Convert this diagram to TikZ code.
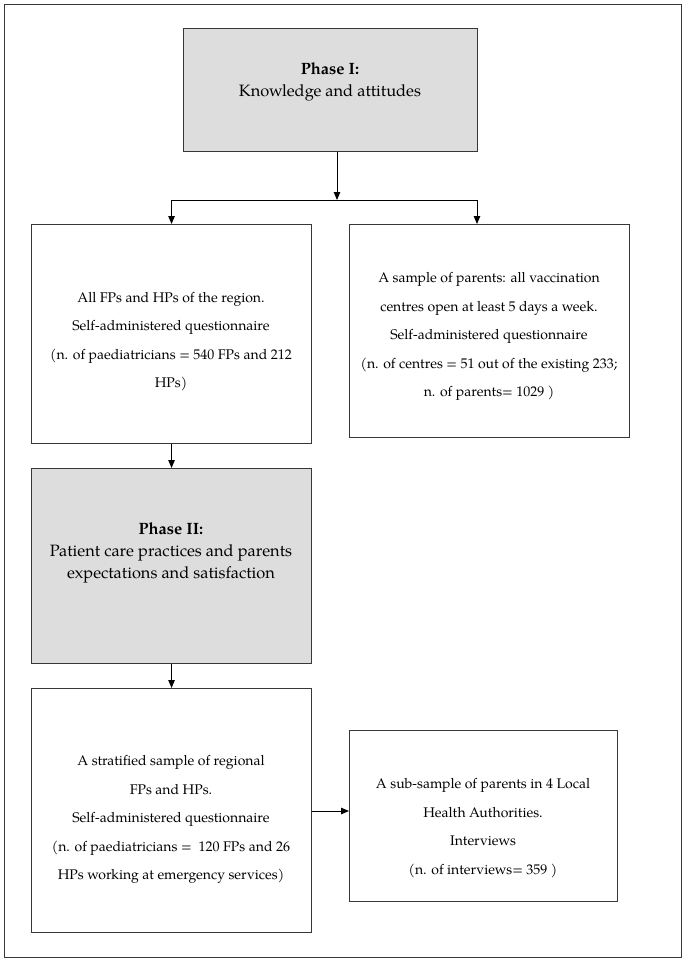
\documentclass[tikz,border=0pt]{standalone}
\usepackage{fontspec}
\setmainfont{TeX Gyre Pagella}
\usetikzlibrary{arrows.meta}
\definecolor{boxline}{RGB}{55,55,55}
\definecolor{phasefill}{RGB}{221,221,221}
\begin{document}
\begin{tikzpicture}[x=1pt,y=-1pt,
  box/.style={draw=boxline, line width=1.1pt, anchor=north west, inner sep=0pt},
  phasebox/.style={box, fill=phasefill},
  txt/.style={align=center, inner sep=0pt, font=\fontsize{14}{28.5}\selectfont},
  ptxt/.style={align=center, inner sep=0pt, font=\fontsize{16.4}{22}\selectfont},
  conn/.style={draw=black, line width=0.9pt},
  arr/.style={conn, -{Triangle[length=8pt,width=6.5pt]}}]
\useasboundingbox (0,0) rectangle (685,964);
\draw[draw=boxline, line width=1pt] (4,4) rectangle (681,957);

\node[phasebox, minimum width=294pt, minimum height=123pt] (P1) at (183,28) {};
\node[box, minimum width=280pt, minimum height=219pt] (A) at (31,224) {};
\node[box, minimum width=280pt, minimum height=213pt] (B) at (349,224) {};
\node[phasebox, minimum width=280pt, minimum height=195pt] (P2) at (31,468) {};
\node[box, minimum width=280pt, minimum height=244pt] (C) at (31,688) {};
\node[box, minimum width=268pt, minimum height=171pt] (D) at (349,730) {};

\node[ptxt] (tP1) at (330,82) {\textbf{Phase I:}\\Knowledge and attitudes};
\node[txt] (tA) at (171,341.5) {All FPs and HPs of the region.\\Self-administered questionnaire\\(n. of paediatricians = 540 FPs and 212\\HPs)};
\node[txt] (tB) at (489,336.5) {A sample of parents: all vaccination\\centres open at least 5 days a week.\\Self-administered questionnaire\\(n. of centres = 51 out of the existing 233;\\n. of parents= 1029 )};
\node[ptxt] (tP2) at (171,553) {\textbf{Phase II:}\\Patient care practices and parents\\expectations and satisfaction};
\node[txt] (tC) at (171,819.5) {A stratified sample of regional\\FPs and HPs.\\Self-administered questionnaire\\(n. of paediatricians = \ 120 FPs and 26\\HPs working at emergency services)};
\node[txt] (tD) at (483,828) {A sub-sample of parents in 4 Local\\Health Authorities.\\Interviews\\(n. of interviews= 359 )};

\coordinate (j) at (337,200);
\coordinate (bj) at (477,200);
\draw[arr] (P1.south -| j) -- (j);
\draw[conn] (j -| A.north) -- (bj);
\draw[arr] (j -| A.north) -- (A.north);
\draw[arr] (bj) -- (bj |- B.north);
\draw[arr] (A.south) -- (P2.north);
\draw[arr] (P2.south) -- (C.north);
\coordinate (h) at (0,811);
\draw[arr] (C.east |- h) -- (D.west |- h);
\end{tikzpicture}
\end{document}
